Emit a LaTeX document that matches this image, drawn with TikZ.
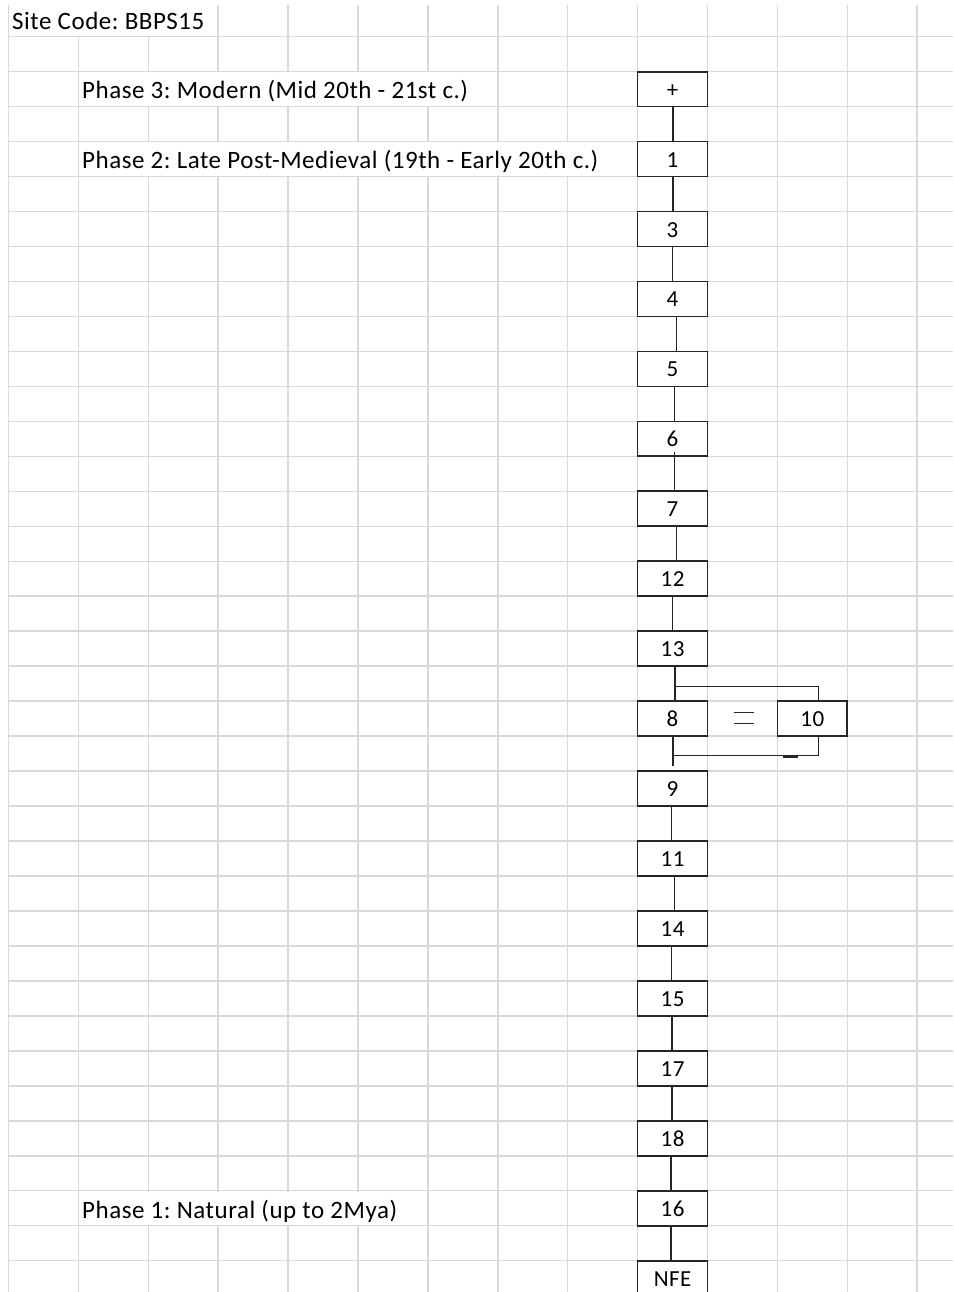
\documentclass[tikz,border=0pt]{standalone}
\usepackage{fontspec}
\setmainfont{Carlito}[LetterSpace=2.1]
\frenchspacing
\usetikzlibrary{calc}
\definecolor{gridc}{RGB}{216,216,216}
\definecolor{boxc}{RGB}{38,38,38}
\begin{document}
\begin{tikzpicture}[x=1pt,y=-1pt,
  gridline/.style={gridc,line width=1.5pt},
  mask/.style={fill=white,draw=none},
  unitbox/.style={draw=boxc,line width=1.7pt,fill=white,minimum width=69.9pt,minimum height=34.97pt,inner sep=0pt,font=\fontsize{23}{27}\selectfont,text height=16pt,text depth=0pt},
  link/.style={boxc,line width=1.6pt},
  celltext/.style={anchor=base west,inner sep=0pt,font=\fontsize{25}{30}\selectfont}]
\useasboundingbox (0,0) rectangle (953,1292);
\clip (0,0) rectangle (953,1292);
% spreadsheet grid
\foreach \j in {0,...,13} \draw[gridline] ({8.5+69.9*\j},5) -- ({8.5+69.9*\j},1292);
\foreach \k in {0,...,35} \draw[gridline] (8.5,{36.7+34.97*\k}) -- (953,{36.7+34.97*\k});
% cells whose text overflows hide gridlines
\fill[mask] ({8.5+1},5) rectangle ({8.5+69.9*3-1},{36.7-0.8});
\fill[mask] ({8.5+69.9+1},{36.7+34.97*1+0.8}) rectangle ({8.5+69.9*7-1},{36.7+34.97*2-0.8});
\fill[mask] ({8.5+69.9+1},{36.7+34.97*3+0.8}) rectangle ({8.5+69.9*9-1},{36.7+34.97*4-0.8});
\fill[mask] ({8.5+69.9+1},{36.7+34.97*33+0.8}) rectangle ({8.5+69.9*6-1},{36.7+34.97*34-0.8});
% texts
\node[celltext] (site) at (12,29.3) {Site Code: BBPS15};
\node[celltext] (ph3) at (82,98.8) {Phase 3: Modern (Mid 20th - 21st c.)};
\node[celltext] (ph2) at (82,168.6) {Phase 2: Late Post-Medieval (19th - Early 20th c.)};
\node[celltext] (ph1) at (82,1218) {Phase 1: Natural (up to 2Mya)};
% units
\foreach \n/\t [count=\i from 0] in {plus/+,u1/1,u3/3,u4/4,u5/5,u6/6,u7/7,u12/12,u13/13,u8/8,u9/9,u11/11,u14/14,u15/15,u17/17,u18/18,u16/16,nfe/NFE}
  \node[unitbox] (\n) at ({8.5+69.9*9.5},{36.7+34.97*(1.5+2*\i)}) {\t};
\node[unitbox] (u10) at ({8.5+69.9*11.5},{36.7+34.97*19.5}) {10};
% connectors
\foreach \a/\b/\s in {plus/u1/0.5,u1/u3/0.5,u3/u4/0,u4/u5/4,u7/u12/4,u12/u13/0,u13/u8/2.5,u9/u11/-1,u11/u14/2,u14/u15/-1,u15/u17/-0.5,u17/u18/-0.5,u18/u16/-1.5,u16/nfe/-1.5}
  \draw[link] ([xshift=\s pt]\a.south) -- ([xshift=\s pt]\b.north);
\draw[link] ([xshift=1.8pt]u5.south) -- ([xshift=1.8pt]u6.north);
\draw[link] ([xshift=1.8pt,yshift=5pt]u6.south) -- ([xshift=1.8pt]u7.north);
\draw[link] ([xshift=0.5pt]u8.south) -- ([xshift=0.5pt,yshift=4pt]u9.north);
% 13 -> 10 and 10 -> 9
\coordinate (jt) at ($(u13.south)!0.5!(u8.north)+(2.5,3)$);
\coordinate (jb) at ($(u8.south)!0.5!(u9.north)+(0.5,2)$);
\draw[link] (jt) -| ([xshift=6pt]u10.north);
\draw[link] ([xshift=6pt]u10.south) |- (jb);
\draw[boxc,line width=3.2pt] ($(jb)+(110,0.8)$) -- ($(jb)+(125,0.8)$);
% equals sign between 8 and 10
\draw[link,line width=1.8pt] ($(u8.east)+(25.5,-6.2)$) -- ++(20,0);
\draw[link,line width=1.8pt] ($(u8.east)+(25.5,4.9)$) -- ++(20,0);
\end{tikzpicture}
\end{document}
